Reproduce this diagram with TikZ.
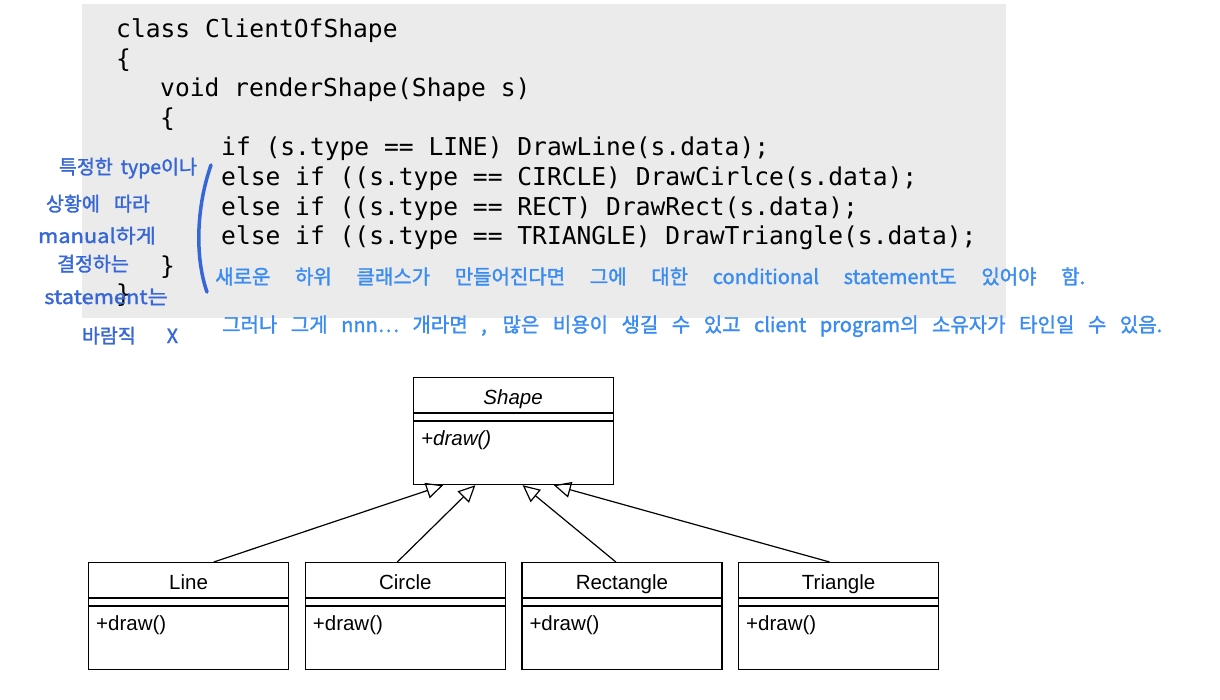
\documentclass[tikz,border=0pt]{standalone}
\usepackage{fontspec}
\setmainfont{Liberation Sans}
\newfontfamily\codefont{DejaVu Sans Mono}
\newfontfamily\handfont[FakeBold=1.6]{Noto Sans CJK KR}
\usetikzlibrary{arrows.meta,calc}
\definecolor{codebg}{HTML}{EBEBEB}
\definecolor{penleft}{HTML}{3767D6}
\definecolor{penright}{HTML}{3B8CF2}
\begin{document}
\begin{tikzpicture}[x=1pt,y=-1pt,
  codeline/.style={anchor=base west, inner sep=0pt, font={\codefont\fontsize{24.6}{29}\selectfont}},
  noteL/.style={anchor=base, inner sep=0pt, text=penleft, font={\handfont\fontsize{19.5}{22}\selectfont}},
  noteR/.style={anchor=base west, inner sep=0pt, text=penright, font={\handfont\fontsize{20}{22}\selectfont}},
  umlbox/.style={draw, line width=1.2pt, minimum width=200pt, minimum height=107pt, inner sep=0pt, anchor=north west},
  umlsep/.style={line width=1.2pt},
  umlname/.style={anchor=base, inner sep=0pt, font={\fontsize{20.5}{24}\selectfont}},
  umlop/.style={anchor=base west, inner sep=0pt, font={\fontsize{20.5}{24}\selectfont}},
  generalization/.style={line width=1.2pt, -{Triangle[open, length=17pt, width=16pt]}}
]
\useasboundingbox (0,0) rectangle (1220,699);

% code listing
\node[fill=codebg, minimum width=924pt, minimum height=314pt, inner sep=0pt, anchor=north west] (listing) at (82,4) {};
\node[codeline] (c1) at (116,37.5) {class ClientOfShape};
\node[codeline] (c2) at (116,67.1) {\{};
\node[codeline] (c3) at (160,96.7) {void renderShape(Shape s)};
\node[codeline] (c4) at (160,126.3) {\{};
\node[codeline] (c5) at (221,155.9) {if (s.type == LINE) DrawLine(s.data);};
\node[codeline] (c6) at (221,185.5) {else if ((s.type == CIRCLE) DrawCirlce(s.data);};
\node[codeline] (c7) at (221,215.1) {else if ((s.type == RECT) DrawRect(s.data);};
\node[codeline] (c8) at (221,244.7) {else if ((s.type == TRIANGLE) DrawTriangle(s.data);};
\node[codeline] (c9) at (160,274.3) {\}};
\node[codeline] (c10) at (116,302) {\}};

% pen notes
\draw[penleft, line width=3.5pt, line cap=round] (211,165) .. controls (196,208) and (195,258) .. (207,292);
\node[noteL] (n1) at (128,174) {\makebox[138pt][s]{특정한 type이나}};
\node[noteL] (n2) at (98,211) {\makebox[104pt][s]{상황에 따라}};
\node[noteL] (n3) at (97,243) {\scalebox{1.12}[1]{manual하게}};
\node[noteL] (n4) at (93,271) {결정하는};
\node[noteL] (n5) at (106,304) {\scalebox{1.12}[1]{statement는}};
\node[noteL] (n6) at (130,343) {\makebox[96pt][s]{바람직 X}};
\node[noteR] (r1) at (215,284) {\makebox[870pt][s]{새로운 하위 클래스가 만들어진다면 그에 대한 conditional statement도 있어야 함.}};
\node[noteR] (r2) at (222,332) {\makebox[940pt][s]{그러나 그게 nnn… 개라면 , 많은 비용이 생길 수 있고 client program의 소유자가 타인일 수 있음.}};

% class diagram
\node[umlbox] (shape) at (412.5,377) {};
\draw[umlsep] ($(shape.north west)+(0,36)$) -- ($(shape.north east)+(0,36)$);
\draw[umlsep] ($(shape.north west)+(0,44)$) -- ($(shape.north east)+(0,44)$);
\node[umlname, font={\itshape\fontsize{20.5}{24}\selectfont}] (shape-name) at ($(shape.north)+(0,27.5)$) {Shape};
\node[umlop, font={\itshape\fontsize{20.5}{24}\selectfont}] (shape-op) at ($(shape.north west)+(8.5,68.5)$) {+draw()};

\foreach \n/\lbl/\lx in {line/Line/88, circle/Circle/304.7, rect/Rectangle/521.3, tri/Triangle/738} {
  \node[umlbox] (\n) at (\lx,562) {};
  \draw[umlsep] ($(\n.north west)+(0,36)$) -- ($(\n.north east)+(0,36)$);
  \draw[umlsep] ($(\n.north west)+(0,44)$) -- ($(\n.north east)+(0,44)$);
  \node[umlname] (\n-name) at ($(\n.north)+(0,27.5)$) {\lbl};
  \node[umlop] (\n-op) at ($(\n.north west)+(8,68.5)$) {+draw()};
}

\draw[generalization] ($(line.north west)!0.625!(line.north east)$) -- ($(shape.south west)!0.1525!(shape.south east)$);
\draw[generalization] ($(circle.north west)!0.46!(circle.north east)$) -- ($(shape.south west)!0.3125!(shape.south east)$);
\draw[generalization] ($(rect.north west)!0.47!(rect.north east)$) -- ($(shape.south west)!0.5475!(shape.south east)$);
\draw[generalization] ($(tri.north west)!0.455!(tri.north east)$) -- ($(shape.south west)!0.7025!(shape.south east)$);
\end{tikzpicture}
\end{document}
